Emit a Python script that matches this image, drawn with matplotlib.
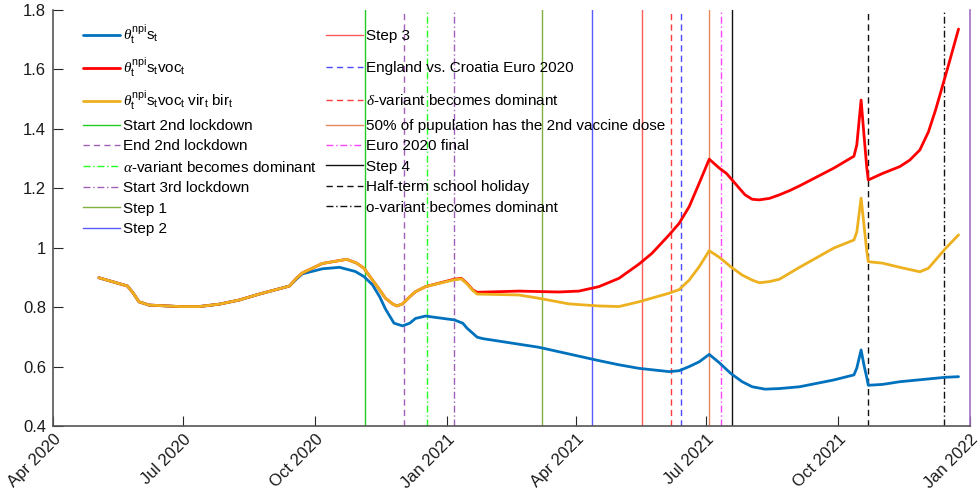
import matplotlib
matplotlib.use("Agg")
import matplotlib.pyplot as plt
from matplotlib.transforms import ScaledTranslation
import pandas as pd

plt.rcParams['font.family'] = ['Liberation Sans', 'DejaVu Sans']
plt.rcParams['mathtext.fontset'] = 'custom'
plt.rcParams['mathtext.rm'] = 'Liberation Sans'
plt.rcParams['mathtext.it'] = 'Liberation Serif:italic'
plt.rcParams['mathtext.sf'] = 'Liberation Sans'

# ---------------- data ----------------
blue_dates = ['2020-05-03', '2020-05-23', '2020-05-27', '2020-05-31', '2020-06-07', '2020-06-28',
              '2020-07-12', '2020-07-26', '2020-08-09', '2020-08-23', '2020-09-13', '2020-09-18',
              '2020-09-22', '2020-10-06', '2020-10-18', '2020-10-29', '2020-11-04', '2020-11-10',
              '2020-11-15', '2020-11-19', '2020-11-25', '2020-12-01', '2020-12-06', '2020-12-10',
              '2020-12-17', '2021-01-06', '2021-01-12', '2021-01-15', '2021-01-19', '2021-01-22',
              '2021-01-26', '2021-03-06', '2021-04-17', '2021-05-01', '2021-05-15', '2021-06-05',
              '2021-06-12', '2021-06-19', '2021-06-26', '2021-07-03', '2021-07-10', '2021-07-18',
              '2021-07-26', '2021-08-02', '2021-08-11', '2021-08-21', '2021-09-04', '2021-09-28',
              '2021-10-12', '2021-10-14', '2021-10-17', '2021-10-19', '2021-10-21', '2021-10-22',
              '2021-11-01', '2021-11-13', '2021-12-15', '2021-12-24']
blue_values = [0.899, 0.871, 0.847, 0.818, 0.807, 0.802,
               0.802, 0.810, 0.824, 0.844, 0.871, 0.895,
               0.912, 0.929, 0.934, 0.920, 0.903, 0.875,
               0.835, 0.794, 0.746, 0.737, 0.746, 0.762,
               0.770, 0.757, 0.746, 0.729, 0.712, 0.699,
               0.694, 0.665, 0.620, 0.606, 0.594, 0.583,
               0.586, 0.600, 0.616, 0.641, 0.613, 0.577,
               0.549, 0.532, 0.524, 0.526, 0.532, 0.555,
               0.572, 0.595, 0.656, 0.605, 0.562, 0.537,
               0.540, 0.549, 0.564, 0.566]

red_dates = ['2020-05-03', '2020-05-23', '2020-05-27', '2020-05-31', '2020-06-07', '2020-06-28',
             '2020-07-12', '2020-07-26', '2020-08-09', '2020-08-23', '2020-09-13', '2020-09-18',
             '2020-09-22', '2020-10-06', '2020-10-23', '2020-10-30', '2020-11-04', '2020-11-10',
             '2020-11-15', '2020-11-19', '2020-11-24', '2020-11-27', '2020-12-01', '2020-12-06',
             '2020-12-10', '2020-12-17', '2021-01-06', '2021-01-11', '2021-01-15', '2021-01-19',
             '2021-01-22', '2021-02-20', '2021-03-20', '2021-04-03', '2021-04-17', '2021-05-01',
             '2021-05-15', '2021-05-24', '2021-06-05', '2021-06-12', '2021-06-19', '2021-06-26',
             '2021-07-03', '2021-07-10', '2021-07-15', '2021-07-19', '2021-07-24', '2021-07-28',
             '2021-08-02', '2021-08-07', '2021-08-14', '2021-08-21', '2021-08-28', '2021-09-04',
             '2021-09-28', '2021-10-12', '2021-10-14', '2021-10-17', '2021-10-19', '2021-10-21',
             '2021-10-22', '2021-11-01', '2021-11-13', '2021-11-20', '2021-11-27', '2021-12-03',
             '2021-12-08', '2021-12-15', '2021-12-18', '2021-12-24']
red_values = [0.899, 0.871, 0.847, 0.818, 0.807, 0.802,
              0.802, 0.810, 0.824, 0.844, 0.871, 0.898,
              0.915, 0.947, 0.961, 0.948, 0.931, 0.891,
              0.858, 0.830, 0.811, 0.804, 0.811, 0.835,
              0.852, 0.869, 0.894, 0.897, 0.880, 0.858,
              0.850, 0.854, 0.851, 0.854, 0.869, 0.897,
              0.945, 0.981, 1.043, 1.082, 1.138, 1.217,
              1.298, 1.268, 1.250, 1.228, 1.200, 1.178,
              1.163, 1.161, 1.166, 1.178, 1.192, 1.208,
              1.268, 1.308, 1.346, 1.497, 1.380, 1.268,
              1.228, 1.250, 1.273, 1.295, 1.329, 1.390,
              1.464, 1.581, 1.632, 1.736]

orange_dates = ['2020-05-03', '2020-05-23', '2020-05-27', '2020-05-31', '2020-06-07', '2020-06-28',
                '2020-07-12', '2020-07-26', '2020-08-09', '2020-08-23', '2020-09-13', '2020-09-18',
                '2020-09-22', '2020-10-06', '2020-10-23', '2020-10-30', '2020-11-04', '2020-11-10',
                '2020-11-15', '2020-11-19', '2020-11-24', '2020-11-27', '2020-12-01', '2020-12-06',
                '2020-12-10', '2020-12-17', '2021-01-06', '2021-01-11', '2021-01-15', '2021-01-19',
                '2021-01-22', '2021-02-20', '2021-03-06', '2021-03-27', '2021-04-17', '2021-05-01',
                '2021-05-15', '2021-06-05', '2021-06-12', '2021-06-19', '2021-06-26', '2021-07-03',
                '2021-07-10', '2021-07-18', '2021-07-26', '2021-08-02', '2021-08-07', '2021-08-14',
                '2021-08-21', '2021-09-04', '2021-09-28', '2021-10-12', '2021-10-14', '2021-10-17',
                '2021-10-19', '2021-10-21', '2021-10-22', '2021-11-01', '2021-11-13', '2021-11-27',
                '2021-12-03', '2021-12-10', '2021-12-15', '2021-12-24']
orange_values = [0.899, 0.871, 0.847, 0.818, 0.807, 0.802,
                 0.802, 0.810, 0.824, 0.844, 0.871, 0.898,
                 0.915, 0.947, 0.961, 0.948, 0.931, 0.891,
                 0.858, 0.830, 0.811, 0.804, 0.811, 0.835,
                 0.852, 0.869, 0.892, 0.895, 0.878, 0.856,
                 0.844, 0.841, 0.830, 0.811, 0.804, 0.802,
                 0.818, 0.847, 0.859, 0.891, 0.936, 0.990,
                 0.968, 0.936, 0.908, 0.891, 0.882, 0.886,
                 0.894, 0.934, 0.999, 1.026, 1.053, 1.167,
                 1.077, 0.986, 0.953, 0.948, 0.934, 0.919,
                 0.931, 0.970, 0.998, 1.043]

series_labels = [r'$\theta_{\mathrm{t}}^{\mathrm{npi}}\mathrm{s}_{\mathrm{t}}$',
                 r'$\theta_{\mathrm{t}}^{\mathrm{npi}}\mathrm{s}_{\mathrm{t}}\mathrm{voc}_{\mathrm{t}}$',
                 r'$\theta_{\mathrm{t}}^{\mathrm{npi}}\mathrm{s}_{\mathrm{t}}\mathrm{voc}_{\mathrm{t}}\ \mathrm{vir}_{\mathrm{t}}\ \mathrm{bir}_{\mathrm{t}}$']
series_colors = ['#0072BD', '#FF0000', '#EDB120']

event_dates = ['2020-11-05', '2020-12-02', '2020-12-18', '2021-01-06', '2021-03-08', '2021-04-12',
               '2021-05-17', '2021-06-13', '2021-06-06', '2021-07-03', '2021-07-11', '2021-07-19',
               '2021-10-22', '2021-12-14']
event_labels = ['Start 2nd lockdown', 'End 2nd lockdown', r'$\alpha$-variant becomes dominant',
                'Start 3rd lockdown', 'Step 1', 'Step 2', 'Step 3', 'England vs. Croatia Euro 2020',
                r'$\delta$-variant becomes dominant', '50% of pupulation has the 2nd vaccine dose',
                'Euro 2020 final', 'Step 4', 'Half-term school holiday', 'o-variant becomes dominant']
event_colors = ['#22cc22', '#a060b8', '#22ff22', '#a060b8', '#80b040', '#5a5aff',
                '#ff5a5a', '#4a4aff', '#ff3a3a', '#e8875a', '#ff44ff', '#111111',
                '#111111', '#111111']
event_styles = ['solid', 'dashed', 'dashdot', 'dashdot', 'solid', 'solid',
                'solid', 'dashed', 'dashed', 'solid', 'dashdot', 'solid',
                'dashed', 'dashdot']
extra_line_date = '2022-01-01'
extra_line_color = '#a070c0'

yticks = [0.4, 0.6, 0.8, 1.0, 1.2, 1.4, 1.6, 1.8]
ytick_labels = ['0.4', '0.6', '0.8', '1', '1.2', '1.4', '1.6', '1.8']
xtick_dates = ['2020-04-01', '2020-07-01', '2020-10-01', '2021-01-01', '2021-04-01',
               '2021-07-01', '2021-10-01', '2022-01-01']
xtick_labels = ['Apr 2020', 'Jul 2020', 'Oct 2020', 'Jan 2021', 'Apr 2021', 'Jul 2021',
                'Oct 2021', 'Jan 2022']

# ---------------- figure ----------------
W, H = 979, 500
fig = plt.figure(figsize=(W / 100, H / 100), dpi=100)
ax = fig.add_axes([53 / W, 1 - 426 / H, (970 - 53) / W, (426 - 10) / H])

dash_map = {'solid': '-', 'dashed': (0, (4.5, 3)), 'dashdot': (0, (5, 2, 1, 2))}

handles_series = []
for d, v, c, lab in zip([blue_dates, red_dates, orange_dates],
                        [blue_values, red_values, orange_values],
                        series_colors, series_labels):
    h, = ax.plot(pd.to_datetime(d), v, color=c, lw=2.0, label=lab, zorder=3,
                 solid_joinstyle='round', solid_capstyle='round')
    handles_series.append(h)

handles_events = []
for d, lab, c, s in zip(event_dates, event_labels, event_colors, event_styles):
    h = ax.axvline(pd.Timestamp(d), color=c, ls=dash_map[s], lw=1.0, label=lab, zorder=2)
    handles_events.append(h)
ax.axvline(pd.Timestamp(extra_line_date), color=extra_line_color, lw=1.2, zorder=2,
           clip_on=False)

ax.set_xlim(pd.Timestamp('2020-04-01'), pd.Timestamp('2022-01-01'))
ax.set_ylim(0.4, 1.8)
ax.set_yticks(yticks)
ax.set_yticklabels(ytick_labels)
ax.set_xticks(pd.to_datetime(xtick_dates))
ax.set_xticklabels(xtick_labels, rotation=45, ha='right', va='top', rotation_mode='anchor')
shift = ScaledTranslation(0.06, 0.07, fig.dpi_scale_trans)
for lab in ax.get_xticklabels():
    lab.set_transform(lab.get_transform() + shift)

for sp in ['top', 'right']:
    ax.spines[sp].set_visible(False)
for sp in ['left', 'bottom']:
    ax.spines[sp].set_color('#555555')
    ax.spines[sp].set_linewidth(1.2)
ax.tick_params(direction='in', length=7, width=0.8, color='#262626', labelsize=12,
               labelcolor='#1a1a1a')
ax.tick_params(axis='y', pad=5)
ax.tick_params(axis='x', pad=4)

# ---------------- legends ----------------
fs = 11
common = dict(frameon=False, fontsize=fs, handlelength=2.4, handletextpad=0.2,
              borderpad=0, borderaxespad=0, loc='upper left',
              bbox_transform=fig.transFigure)

def fpos(x, y):
    return (x / W, 1 - y / H)

leg1 = ax.legend(handles=handles_series, labelspacing=0.62,
                 bbox_to_anchor=fpos(83, 23), **common)
ax.add_artist(leg1)
leg2 = ax.legend(handles=handles_events[:6], labelspacing=0.42,
                 bbox_to_anchor=fpos(83, 119), **common)
ax.add_artist(leg2)
leg3 = ax.legend(handles=handles_events[6:9], labelspacing=1.18,
                 bbox_to_anchor=fpos(326, 29), **common)
ax.add_artist(leg3)
leg4 = ax.legend(handles=handles_events[9:], labelspacing=0.42,
                 bbox_to_anchor=fpos(326, 119), **common)

fig.savefig('out.png', dpi=100)
